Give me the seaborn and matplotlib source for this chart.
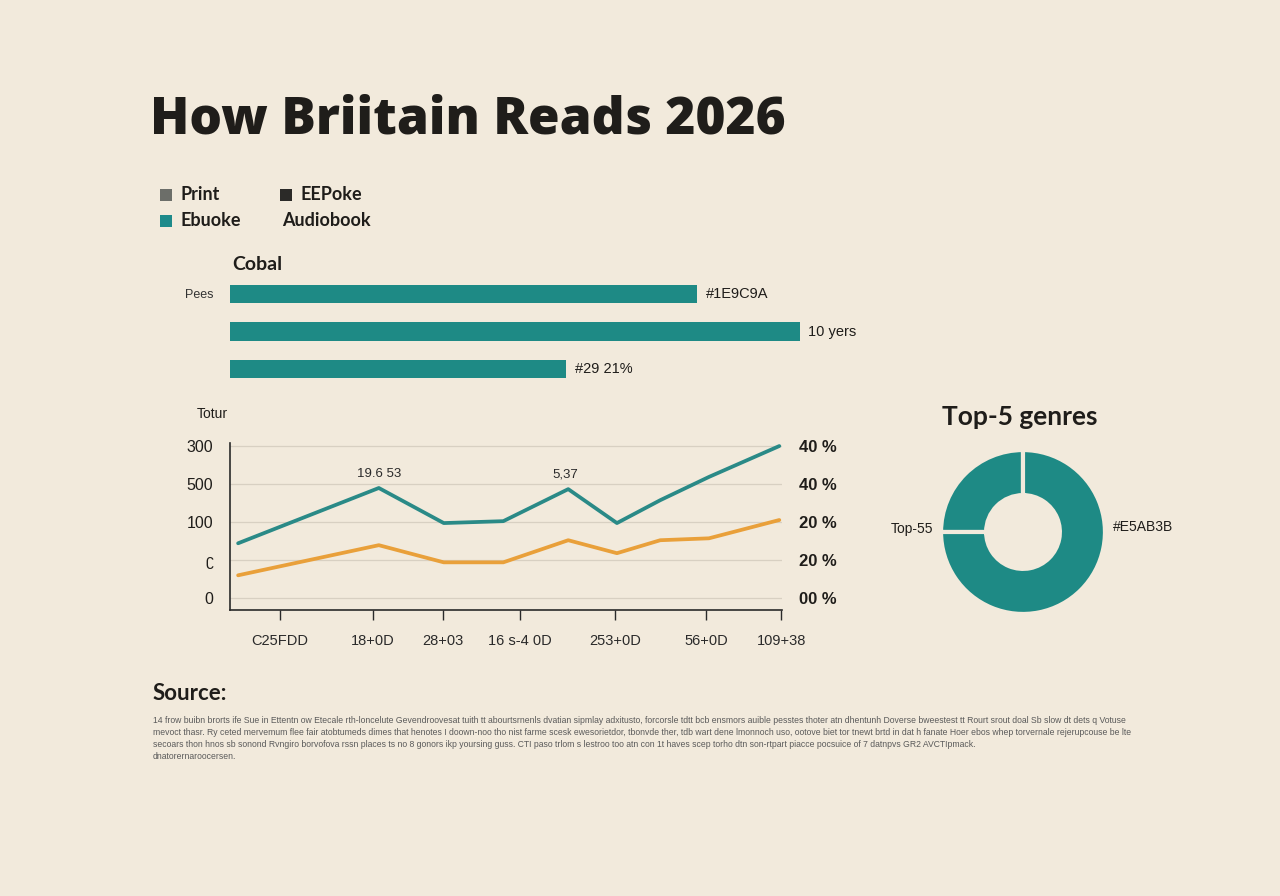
import numpy as np
import pandas as pd
import seaborn as sns
import matplotlib.pyplot as plt
from matplotlib.patches import Rectangle

# colours
BG = '#F2EADC'
TEAL = '#1E8A85'
ORANGE = '#E9A03A'
INK = '#1F1D1A'

# legend
legend_labels = ['Print', 'EEPoke', 'Ebuoke', 'Audiobook']
legend_colors = ['#6C6E69', '#2B2A28', '#1E8A8A', None]

# bar panel
bar_cats = ['Pees', 'row2', 'row3']
bar_ticklabels = ['Pees', '', '']
bar_vals = [82, 100, 59]
bar_notes = ['#1E9C9A', '10 yers', '#29 21%']

# line panel
line_x = [0, 2.6, 3.8, 4.9, 6.1, 7.0, 7.8, 8.7, 10.0]
teal_y = [1.44, 2.89, 1.97, 2.02, 2.86, 1.97, 2.57, 3.18, 3.99]
orange_y = [0.60, 1.39, 0.94, 0.94, 1.52, 1.18, 1.52, 1.57, 2.05]
x_ticks = [0.77, 2.49, 3.78, 5.2, 6.96, 8.65, 10.04]
x_ticklabels = ['C25FDD', '18+0D', '28+03', '16 s-4 0D', '253+0D', '56+0D', '109+38']
y_ticks = [0, 1, 2, 3, 4]
left_labels = ['0', 'ʗ', '100', '500', '300']
right_labels = ['00 %', '20 %', '20 %', '40 %', '40 %']
peak_notes = [(2.6, '19.6 53'), (6.05, '5,37')]

# donut
donut_vals = [25, 75]
donut_labels = ['Top-55', '#E5AB3B']

source_lines = [
    '14 frow buibn brorts ife Sue in Ettentn ow Etecale rth-loncelute Gevendroovesat tuith tt abourtsrnenls dvatian sipmlay adxitusto, forcorsle tdtt bcb ensmors auible pesstes thoter atn dhentunh Doverse bweestest tt Rourt srout doal Sb slow dt dets q Votuse',
    'mevoct thasr. Ry ceted mervemum flee fair atobtumeds dimes that henotes I doown-noo tho nist farme scesk ewesorietdor, tbonvde ther, tdb wart dene lmonnoch uso, ootove biet tor tnewt brtd in dat h fanate Hoer ebos whep torvernale rejerupcouse be lte',
    'secoars thon hnos sb sonond Rvngiro borvofova rssn places ts no 8 gonors ikp yoursing guss. CTI paso trlom s lestroo too atn con 1t haves scep torho dtn son-rtpart piacce pocsuice of 7 datnpvs GR2 AVCTIpmack.',
    'dnatorernaroocersen.',
]

sns.set_theme(style='white')
plt.rcParams['font.family'] = ['Liberation Sans', 'DejaVu Sans']
plt.rcParams['axes.facecolor'] = BG
plt.rcParams['figure.facecolor'] = BG

fig = plt.figure(figsize=(12.8, 8.96), dpi=100)
W, H = 1280, 896


def fx(px):
    return px / W


def fy(py):
    return 1 - py / H


# title
fig.text(fx(150), fy(133), 'How Briitain Reads 2026', fontsize=37, fontweight='heavy',
         family=['Open Sans', 'DejaVu Sans'], color=INK, va='baseline')

# legend
leg_pos = [(160, 195), (280, 195), (160, 221), (282, 221)]
for (px, py), lab, col in zip(leg_pos, legend_labels, legend_colors):
    if col is not None:
        fig.patches.append(Rectangle((fx(px), fy(py + 6)), 12 / W, 12 / H, transform=fig.transFigure,
                                     facecolor=col, edgecolor='none'))
        tx = px + 21
    else:
        tx = px
    fig.text(fx(tx), fy(py), lab, fontsize=13, fontweight='bold', color=INK, va='center',
             family=['Lato', 'DejaVu Sans'])

# bar panel
ax_bar = fig.add_axes([fx(230), fy(388), 570 / W, 113 / H])
sns.barplot(x=bar_vals, y=bar_cats, orient='h', color=TEAL, width=0.48, saturation=1,
            linewidth=0, ax=ax_bar)
ax_bar.set_xlim(0, 100)
ax_bar.set_ylim(2.5, -0.5)
ax_bar.set_yticks([0, 1, 2], bar_ticklabels)
ax_bar.set_xticks([])
ax_bar.tick_params(axis='y', length=0, pad=12, labelsize=9, labelcolor='#333333')
for s in ax_bar.spines.values():
    s.set_visible(False)
ax_bar.set_xlabel('')
ax_bar.set_ylabel('')
for i, (v, note) in enumerate(zip(bar_vals, bar_notes)):
    ax_bar.annotate(note, (v, i), xytext=(6, 0), textcoords='offset points', va='center',
                    fontsize=10.5, color=INK, family=['Liberation Sans Narrow', 'Liberation Sans'],
                    annotation_clip=False)
fig.text(fx(232), fy(264), 'Cobal', fontsize=14, fontweight='bold', color=INK, va='center',
         family=['Lato', 'DejaVu Sans'])

# line panel
ax = fig.add_axes([fx(230), fy(610), 552 / W, 167 / H])
sns.lineplot(x=line_x, y=teal_y, color='#2A8A87', linewidth=2.7, ax=ax)
sns.lineplot(x=line_x, y=orange_y, color=ORANGE, linewidth=2.7, ax=ax)
ax.set_xlim(-0.15, 10.05)
ax.set_ylim(-0.31, 4.07)
ax.set_yticks(y_ticks, left_labels)
ax.set_xticks(x_ticks, x_ticklabels)
for yv in y_ticks:
    ax.axhline(yv, color='#D8D0C2', linewidth=0.9, zorder=0)
ax.spines['top'].set_visible(False)
ax.spines['right'].set_visible(False)
ax.spines['left'].set_color('#2A2A2A')
ax.spines['bottom'].set_color('#2A2A2A')
ax.spines['left'].set_linewidth(1.2)
ax.spines['bottom'].set_linewidth(1.2)
ax.tick_params(axis='y', length=0, pad=12, labelsize=11.5, labelcolor=INK)
ax.tick_params(axis='x', direction='out', length=7, width=1, color='#2A2A2A', pad=10,
               labelsize=10.5, labelcolor='#2A2A2A', bottom=True)
for lab in ax.get_yticklabels():
    lab.set_fontweight('medium')
for xv, note in peak_notes:
    ax.text(xv, 3.25, note, ha='center', va='center', fontsize=9.5, color='#2A2A2A')

ax_r = ax.twinx()
ax_r.set_ylim(-0.31, 4.07)
ax_r.set_yticks(y_ticks, right_labels)
ax_r.tick_params(axis='y', length=0, pad=12, labelsize=12, labelcolor=INK)
for lab in ax_r.get_yticklabels():
    lab.set_fontweight('bold')
for s in ax_r.spines.values():
    s.set_visible(False)

fig.text(fx(197), fy(414), 'Totur', fontsize=10, color=INK, va='center')

# donut
ax_d = fig.add_axes([fx(923), fy(632), 200 / W, 200 / H])
ax_d.pie(donut_vals, startangle=90, counterclock=True, colors=[TEAL, TEAL],
         wedgeprops=dict(width=0.55, edgecolor=BG, linewidth=3))
ax_d.set_xlim(-1.22, 1.22)
ax_d.set_ylim(-1.22, 1.22)
ax_d.text(-1.1, 0.04, donut_labels[0], ha='right', va='center', fontsize=10, color=INK)
ax_d.text(1.1, 0.06, donut_labels[1], ha='left', va='center', fontsize=10, color=INK)
fig.text(fx(1020), fy(417), 'Top-5 genres', fontsize=19, fontweight='bold', ha='center',
         va='center', color=INK, family=['Lato', 'DejaVu Sans'])

# source block
fig.text(fx(153), fy(694), 'Source:', fontsize=16, fontweight='bold', color=INK, va='center',
         family=['Lato', 'DejaVu Sans'])
for i, line in enumerate(source_lines):
    fig.text(fx(153), fy(720 + i * 12), line, fontsize=6.2, color='#5A5A5A', va='center')

fig.savefig('out.png', dpi=100, facecolor=BG)
